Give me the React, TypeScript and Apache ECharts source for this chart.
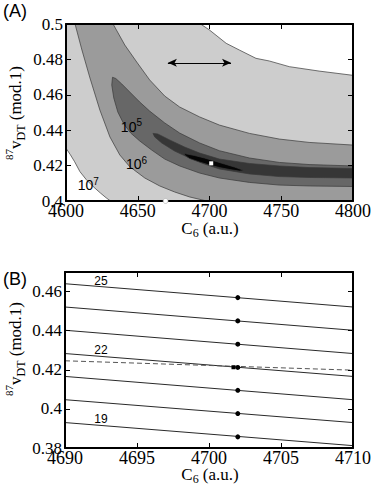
import React, { useEffect, useRef } from "react";
import * as echarts from "echarts";

const SERIF_NAME = "Liberation Serif";
const SANS_NAME = "Liberation Sans";
const SANS = "'Liberation Sans', Arial, sans-serif";

// ---------- Panel A: contour boundaries (C6 [a.u.], 87v_DT mod 1) ----------
const whiteTopEdge = [
  [4693.8, 0.5], [4700, 0.4966], [4711.6, 0.4891], [4720.8, 0.4853], [4732.4, 0.4806],
  [4741.7, 0.4791], [4755.6, 0.4759], [4776.4, 0.4734], [4800, 0.471],
];
const whiteCornerEdge = [
  [4600, 0.4298], [4603, 0.4262], [4606, 0.4222], [4609.7, 0.4166], [4614, 0.4122],
  [4619, 0.4081], [4624, 0.4045], [4628, 0.4018], [4631, 0.4],
];
const level6Lower = [
  [4606.3, 0.5], [4611.1, 0.4853], [4616.7, 0.4695], [4623.6, 0.4514], [4630.6, 0.4362],
  [4637.5, 0.426], [4644.4, 0.4194], [4654.9, 0.413], [4665.3, 0.4085], [4675.7, 0.4051],
  [4686.1, 0.4023], [4696.5, 0.4003], [4700, 0.4],
];
const level6Upper = [
  [4632.8, 0.5], [4641.0, 0.4881], [4649.3, 0.4785], [4658.3, 0.4684], [4668.8, 0.4593],
  [4679.2, 0.4531], [4693.1, 0.4475], [4706.9, 0.4429], [4727.8, 0.4382], [4748.6, 0.435],
  [4769.4, 0.4331], [4800, 0.4316],
];
const level5Upper = [
  [4632.4, 0.4699], [4634.7, 0.4692], [4638.9, 0.4661], [4644.4, 0.4616], [4651.4, 0.4559],
  [4658.3, 0.4508], [4668.8, 0.4441], [4679.2, 0.4384], [4693.1, 0.4328], [4706.9, 0.4284],
  [4727.8, 0.4243], [4748.6, 0.4218], [4769.4, 0.4206], [4800, 0.4198],
];
const level5Lower = [
  [4632.4, 0.4699], [4631.9, 0.4655], [4633.3, 0.4582], [4636.1, 0.4503], [4640.3, 0.4435],
  [4645.1, 0.4384], [4651.4, 0.4339], [4659.7, 0.4288], [4668.8, 0.4237], [4679.2, 0.4198],
  [4693.1, 0.4158], [4706.9, 0.413], [4727.8, 0.4105], [4748.6, 0.409], [4769.4, 0.4085],
  [4800, 0.4082],
];
const level4Upper = [
  [4660.6, 0.4382], [4663.9, 0.4379], [4672.2, 0.4345], [4682.6, 0.4305], [4693.1, 0.4271],
  [4706.9, 0.4237], [4727.8, 0.4212], [4748.6, 0.4198], [4769.4, 0.4189], [4800, 0.4184],
];
const level4Lower = [
  [4660.6, 0.4382], [4661.8, 0.4362], [4666.7, 0.4328], [4675.7, 0.4282], [4686.1, 0.4243],
  [4696.5, 0.4209], [4706.9, 0.4181], [4727.8, 0.4153], [4748.6, 0.4138], [4769.4, 0.4133],
  [4800, 0.413],
];
const level3Upper = [
  [4682.6, 0.4268], [4689.6, 0.4257], [4696.5, 0.4243], [4703.5, 0.4226], [4710.4, 0.4209],
  [4717.4, 0.4192], [4724.3, 0.4172],
];
const level3Lower = [
  [4724.3, 0.4172], [4720.8, 0.4169], [4713.9, 0.4178], [4706.9, 0.4189], [4700, 0.4203],
  [4693.1, 0.422], [4686.1, 0.424], [4682.6, 0.426],
];
const contourLabels = [
  { name: "5", value: [4645.6, 0.442] },
  { name: "6", value: [4649.1, 0.4207] },
  { name: "7", value: [4615.5, 0.409] },
];
const bestFitA = [4701.2, 0.4213];
const openDotA = [4669.4, 0.4];
const arrowA = [[4671, 0.4781], [4715, 0.4781]];

// ---------- Panel B: lines ----------
const bLineNumbers = [25, 24, 23, 22, 21, 20, 19];
const bLabelled = [25, 22, 19];
const bXRange = [4690, 4710];
const bLeftY = [0.464, 0.4521, 0.4402, 0.4283, 0.4166, 0.4047, 0.393];
const bRightY = [0.4521, 0.4402, 0.4283, 0.4166, 0.4047, 0.393, 0.3812];
const bDotX = 4702;
const bDotY = [0.4569, 0.445, 0.4331, 0.4212, 0.4095, 0.3976, 0.3857];
const bDashed = [[4690, 0.4246], [4710, 0.4198]];
const bExtraPoint = [4701.7, 0.4213];
const bLabelX = 4692.5;

const rev = (a: number[][]) => a.slice().reverse();

const regions = [
  { pts: [...whiteTopEdge, [4800, 0.5]], fill: "#ffffff" },
  { pts: [...whiteCornerEdge, [4600, 0.4]], fill: "#ffffff" },
  { pts: [...level6Lower, [4800, 0.4], ...rev(level6Upper)], fill: "#9b9b9b" },
  { pts: [...level5Upper, ...rev(level5Lower)], fill: "#676767" },
  { pts: [...level4Upper, ...rev(level4Lower)], fill: "#363636" },
  { pts: [...level3Upper, ...level3Lower], fill: "#050505" },
];

const fmt = (v: number) => String(parseFloat(Number(v).toFixed(6)));

function axisPair(grid: number, min: number, max: number, interval: number, isX: boolean, hideMax: boolean) {
  const common: any = {
    gridIndex: grid,
    type: "value",
    min,
    max,
    interval,
    z: 10,
    splitLine: { show: false },
    axisLine: { show: true, onZero: false, lineStyle: { color: "#000", width: 2 } },
    axisTick: { show: true, inside: true, length: 5, lineStyle: { color: "#000", width: 1 } },
  };
  return [
    {
      ...common,
      position: isX ? "bottom" : "left",
      axisLabel: {
        show: true,
        color: "#000",
        fontFamily: SERIF_NAME,
        fontSize: isX ? 18 : 17,
        margin: isX ? 1 : 3,
        showMaxLabel: !hideMax,
        formatter: (v: number) => `{t|${fmt(v)}}`,
        rich: { t: { fontFamily: SERIF_NAME, fontSize: isX ? 18 : 17, color: "#000" } },
      },
    },
    { ...common, position: isX ? "top" : "right", axisLabel: { show: false } },
  ];
}

export default function App() {
  const ref = useRef<HTMLDivElement>(null);
  useEffect(() => {
    if (!ref.current) return;
    const chart = echarts.init(ref.current, undefined, { renderer: "svg" });

    const bLines = bLineNumbers.map((n, i) => ({
      type: "line",
      xAxisIndex: 2,
      yAxisIndex: 2,
      name: String(n),
      data: [[bXRange[0], bLeftY[i]], [bXRange[1], bRightY[i]]],
      symbol: "none",
      lineStyle: { color: "#2a2a2a", width: 1 },
      z: 2,
    }));

    const bLabelData = bLineNumbers
      .map((n, i) => ({ n, i }))
      .filter((d) => bLabelled.includes(d.n))
      .map(({ n, i }) => ({
        name: String(n),
        value: [
          bLabelX,
          bLeftY[i] + ((bRightY[i] - bLeftY[i]) * (bLabelX - bXRange[0])) / (bXRange[1] - bXRange[0]),
        ],
      }));

    const option: any = {
      animation: false,
      textStyle: { fontFamily: SERIF_NAME },
      grid: [
        { left: 66, top: 24, width: 288, height: 177, show: true, backgroundColor: "#cdcdcd", borderWidth: 0 },
        { left: 65, top: 272, width: 289, height: 176 },
      ],
      xAxis: [
        ...axisPair(0, 4600, 4800, 50, true, false),
        ...axisPair(1, 4690, 4710, 5, true, false),
      ],
      yAxis: [
        ...axisPair(0, 0.4, 0.5, 0.02, false, false),
        ...axisPair(1, 0.38, 0.47, 0.02, false, true),
      ],
      series: [
        {
          type: "custom",
          xAxisIndex: 0,
          yAxisIndex: 0,
          z: 1,
          clip: true,
          data: regions.map((_, i) => [4700, 0.45, i]),
          renderItem: (params: any, api: any) => {
            const r = regions[params.dataIndex];
            return {
              type: "polygon",
              shape: { points: r.pts.map((p) => api.coord(p)) },
              style: { fill: r.fill, stroke: "#3a3a3a", lineWidth: 0.7 },
            };
          },
        },
        {
          type: "line",
          xAxisIndex: 0,
          yAxisIndex: 0,
          data: [],
          z: 3,
          markLine: {
            silent: true,
            symbol: ["arrow", "arrow"],
            symbolSize: [6, 9],
            label: { show: false },
            lineStyle: { color: "#000", width: 1, type: "solid" },
            data: [[{ coord: arrowA[0] }, { coord: arrowA[1] }]],
          },
        },
        {
          type: "scatter",
          xAxisIndex: 0,
          yAxisIndex: 0,
          z: 4,
          symbol: "rect",
          symbolSize: 4,
          itemStyle: { color: "#fff", opacity: 1 },
          data: [bestFitA],
        },
        {
          type: "scatter",
          xAxisIndex: 0,
          yAxisIndex: 0,
          z: 11,
          clip: false,
          symbol: "circle",
          symbolSize: 5,
          itemStyle: { color: "#fff", borderColor: "#aaa", borderWidth: 0.6, opacity: 1 },
          data: [openDotA],
        },
        {
          type: "scatter",
          xAxisIndex: 0,
          yAxisIndex: 0,
          z: 5,
          symbolSize: 0,
          itemStyle: { opacity: 1 },
          data: contourLabels,
          label: {
            show: true,
            position: "inside",
            color: "#000",
            formatter: (p: any) => `{b|10}{s|${p.name}}`,
            rich: {
              b: { fontFamily: SANS_NAME, fontSize: 14, color: "#000", lineHeight: 18 },
              s: { fontFamily: SANS_NAME, fontSize: 10, color: "#000", lineHeight: 10, verticalAlign: "top" },
            },
          },
        },
        ...bLines,
        {
          type: "line",
          xAxisIndex: 2,
          yAxisIndex: 2,
          data: bDashed,
          symbol: "none",
          lineStyle: { color: "#555", width: 1, type: [5, 3] },
          z: 2,
        },
        {
          type: "scatter",
          xAxisIndex: 2,
          yAxisIndex: 2,
          symbolSize: 5,
          itemStyle: { color: "#000", opacity: 1 },
          data: bDotY.map((y) => [bDotX, y]),
          z: 3,
        },
        {
          type: "scatter",
          xAxisIndex: 2,
          yAxisIndex: 2,
          symbol: "rect",
          symbolSize: 4,
          itemStyle: { color: "#000", opacity: 1 },
          data: [bExtraPoint],
          z: 3,
        },
        {
          type: "scatter",
          xAxisIndex: 2,
          yAxisIndex: 2,
          symbolSize: 0,
          itemStyle: { opacity: 1 },
          data: bLabelData,
          z: 4,
          label: {
            show: true,
            position: "top",
            distance: 0,
            formatter: (p: any) => p.name,
            fontFamily: SANS_NAME,
            fontSize: 12,
            color: "#000",
          },
        },
      ],
      graphic: [
        { type: "text", left: 3, top: 2, style: { text: "(A)", font: `18px ${SANS}`, fill: "#000" } },
        { type: "text", left: 3, top: 270, style: { text: "(B)", font: `18px ${SANS}`, fill: "#000" } },
        ...[
          { x: 210, y: 228 },
          { x: 210, y: 474 },
        ].map((p) => ({
          type: "text",
          x: p.x,
          y: p.y,
          style: {
            text: "{n|C}{sub|6}{n| (a.u.)}",
            align: "center",
            verticalAlign: "middle",
            rich: {
              n: { fontFamily: SERIF_NAME, fontSize: 17, fill: "#000", lineHeight: 22 },
              sub: { fontFamily: SERIF_NAME, fontSize: 12, fill: "#000", lineHeight: 10, verticalAlign: "bottom" },
            },
          },
        })),
        ...[
          { x: 15, y: 113 },
          { x: 15, y: 349 },
        ].map((p) => ({
          type: "text",
          x: p.x,
          y: p.y,
          rotation: Math.PI / 2,
          style: {
            text: "{sup|87}{n|v}{sub|DT}{n| (mod.1)}",
            align: "center",
            verticalAlign: "middle",
            rich: {
              n: { fontFamily: SERIF_NAME, fontSize: 17, fill: "#000", lineHeight: 24 },
              sup: { fontFamily: SERIF_NAME, fontSize: 11, fill: "#000", lineHeight: 11, verticalAlign: "top" },
              sub: { fontFamily: SERIF_NAME, fontSize: 12, fill: "#000", lineHeight: 12, verticalAlign: "bottom" },
            },
          },
        })),
      ],
    };
    chart.setOption(option);
    return () => chart.dispose();
  }, []);
  return (
    <div
      ref={ref}
      style={{ position: "fixed", left: 0, top: 0, width: 374, height: 491, background: "#fff" }}
    />
  );
}
